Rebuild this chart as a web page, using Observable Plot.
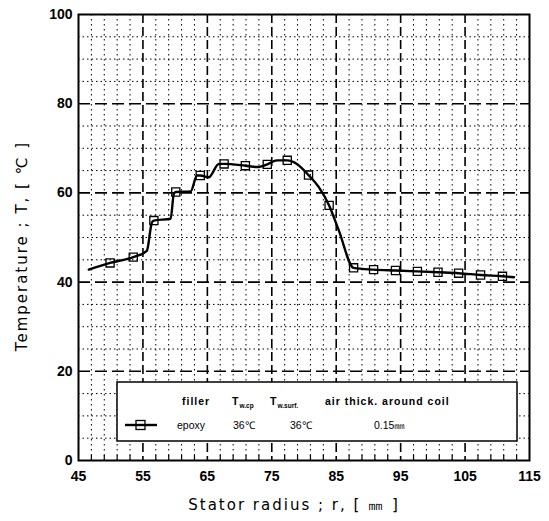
<!DOCTYPE html>
<html>
<head>
<meta charset="utf-8">
<script src="https://cdn.jsdelivr.net/npm/d3@7"></script>
<script src="https://cdn.jsdelivr.net/npm/@observablehq/plot@0.6"></script>
<style>
  html, body { margin: 0; padding: 0; background: #fff; }
  #chart svg { display: block; }
</style>
</head>
<body>
<div id="chart"></div>
<script>
const rLine = [46.6, 49.9, 53.5, 55.6, 56.4, 56.7, 59.3, 59.8, 60.1, 62.4, 63.4, 63.9, 65.2, 66.8, 67.6, 70.9, 72.7, 74.3, 75.8, 77.4, 78.9, 80.7, 82.3, 83.9, 85.4, 87.7, 90.8, 94.2, 97.6, 100.8, 104.0, 107.4, 110.8, 112.6];
const tLine = [42.8, 44.3, 45.6, 47.0, 53.4, 53.8, 54.2, 59.8, 60.2, 60.3, 63.9, 63.9, 63.5, 66.5, 66.5, 66.1, 65.8, 66.4, 67.3, 67.3, 66.5, 64.0, 61.3, 57.2, 51.6, 43.2, 42.8, 42.6, 42.4, 42.2, 42.0, 41.6, 41.3, 41.1];
// Marker positions
const rMark = [49.9, 53.5, 56.7, 60.1, 63.9, 67.6, 70.9, 74.3, 77.4, 80.7, 83.9, 87.7, 90.8, 94.2, 97.6, 100.8, 104.0, 107.4, 110.8];
const tMark = [44.3, 45.6, 53.8, 60.2, 63.9, 66.5, 66.1, 66.4, 67.3, 64.0, 57.2, 43.2, 42.8, 42.6, 42.4, 42.2, 42.0, 41.6, 41.3];

const xTicks = [45, 55, 65, 75, 85, 95, 105, 115];
const yTicks = [0, 20, 40, 60, 80, 100];
const xMajorGrid = [55, 65, 75, 85, 95, 105];
const yMajorGrid = [20, 40, 60, 80];
const xMinorGrid = [47,49,51,53,57,59,61,63,67,69,71,73,77,79,81,83,87,89,91,93,97,99,101,103,107,109,111,113];
const yMinorGrid = [5,10,15,25,30,35,45,50,55,65,70,75,85,90,95];

const xTitle = "Stator radius ; r, [ ㎜ ]";
const yTitle = "Temperature ; T, [ ℃ ]";
const legendHeader = ["filler", "T", "w.cp", "T", "w.surf.", "air thick. around coil"];
const legendRow = ["epoxy", "36℃", "36℃", "0.15㎜"];

const lineData = rLine.map((r, i) => ({r, t: tLine[i]}));
const markData = rMark.map((r, i) => ({r, t: tMark[i]}));

const W = 549, H = 521;
const chart = Plot.plot({
  width: W, height: H,
  marginLeft: 78, marginRight: 20, marginTop: 14, marginBottom: 61,
  style: {fontFamily: "'Liberation Sans', Arial, sans-serif", background: "#fff", color: "#000"},
  x: {domain: [45, 115]},
  y: {domain: [0, 100]},
  marks: [
    Plot.ruleX(xMinorGrid, {stroke: "#000", strokeWidth: 1, strokeDasharray: "1.5,3.5"}),
    Plot.ruleY(yMinorGrid, {stroke: "#000", strokeWidth: 1, strokeDasharray: "1.5,3"}),
    Plot.ruleX(xMajorGrid, {stroke: "#000", strokeWidth: 1.6, strokeDasharray: "9,4"}),
    Plot.ruleY(yMajorGrid, {stroke: "#000", strokeWidth: 1.6, strokeDasharray: "12,5"}),
    Plot.axisX({ticks: xMinorGrid, tickSize: -5, tickFormat: () => "", strokeWidth: 1.2, label: null}),
    Plot.axisX({ticks: xTicks, tickSize: 0, tickPadding: 11, fontSize: 14, fontWeight: "bold", label: null}),
    Plot.axisY({ticks: yTicks, tickSize: 0, tickPadding: 6, fontSize: 14, fontWeight: "bold", label: null}),
    Plot.frame({stroke: "#000", strokeWidth: 2}),
    Plot.line(lineData, {x: "r", y: "t", stroke: "#000", strokeWidth: 2.4, curve: "monotone-x"}),
    Plot.dot(markData, {x: "r", y: "t", symbol: "square", r: 4.6, stroke: "#000", strokeWidth: 1.3, fill: "none"})
  ]
});
document.getElementById("chart").appendChild(chart);

// Axis titles and legend overlay (pixel layout)
const svg = d3.select(chart);
svg.append("text").attr("x", 294).attr("y", 510)
  .attr("text-anchor", "middle")
  .style("font-family", "'DejaVu Sans', sans-serif").style("font-size", "15px").style("letter-spacing", "2px")
  .text(xTitle);
svg.append("text").attr("transform", "translate(27,246) rotate(-90)")
  .attr("text-anchor", "middle")
  .style("font-family", "'DejaVu Sans', sans-serif").style("font-size", "15px").style("letter-spacing", "2px")
  .text(yTitle);

const lg = svg.append("g").attr("text-anchor", "start");
lg.append("rect").attr("x", 117).attr("y", 382).attr("width", 400).attr("height", 59)
  .attr("fill", "#fff").attr("stroke", "#000").attr("stroke-width", 1.5);
const hdrStyle = s => s.attr("text-anchor", "start").style("font-family", "'Liberation Sans', Arial, sans-serif").style("font-size", "10.5px").style("font-weight", "bold").style("letter-spacing", "1px");
hdrStyle(lg.append("text").attr("x", 182).attr("y", 405).text(legendHeader[0]));
const t1 = hdrStyle(lg.append("text").attr("x", 232).attr("y", 405));
t1.append("tspan").text(legendHeader[1]);
t1.append("tspan").attr("dy", 3).style("font-size", "6.5px").style("letter-spacing", "0px").text(legendHeader[2]);
const t2 = hdrStyle(lg.append("text").attr("x", 270).attr("y", 405));
t2.append("tspan").text(legendHeader[3]);
t2.append("tspan").attr("dy", 3).style("font-size", "6.5px").style("letter-spacing", "0px").text(legendHeader[4]);
hdrStyle(lg.append("text").attr("x", 325).attr("y", 405).text(legendHeader[5]));

lg.append("line").attr("x1", 125).attr("x2", 157).attr("y1", 425).attr("y2", 425)
  .attr("stroke", "#000").attr("stroke-width", 2.4);
lg.append("rect").attr("x", 136).attr("y", 420.5).attr("width", 9).attr("height", 9)
  .attr("fill", "none").attr("stroke", "#000").attr("stroke-width", 1.3);
const rowStyle = s => s.attr("text-anchor", "start").style("font-family", "'Liberation Sans', Arial, sans-serif").style("font-size", "10.5px").attr("y", 429);
rowStyle(lg.append("text").attr("x", 177).text(legendRow[0]));
rowStyle(lg.append("text").attr("x", 233).text(legendRow[1]));
rowStyle(lg.append("text").attr("x", 290).text(legendRow[2]));
rowStyle(lg.append("text").attr("x", 374).text(legendRow[3]));
</script>
</body>
</html>
